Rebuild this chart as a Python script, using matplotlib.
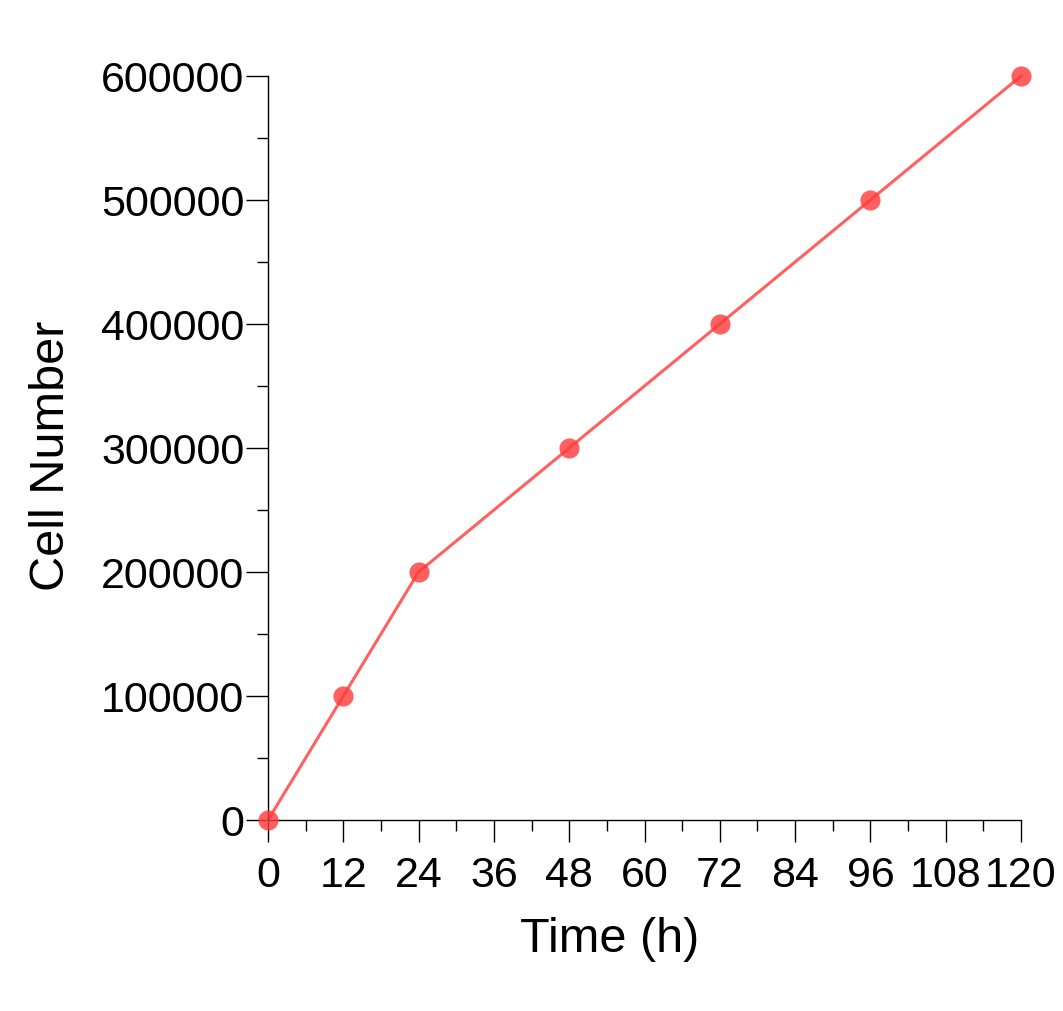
import matplotlib
matplotlib.use("Agg")
import matplotlib.pyplot as plt
from matplotlib.ticker import MultipleLocator

plt.rcParams['font.family'] = ['Liberation Sans', 'DejaVu Sans']

time_h = [0, 12, 24, 48, 72, 96, 120]
cell_number = [0, 100000, 200000, 300000, 400000, 500000, 600000]
x_ticks = [0, 12, 24, 36, 48, 60, 72, 84, 96, 108, 120]
y_ticks = [0, 100000, 200000, 300000, 400000, 500000, 600000]

fig = plt.figure(figsize=(10.63, 10.11), dpi=100)
ax = fig.add_axes([268/1063, 1 - 820/1011, (1021-268)/1063, (820-76)/1011])

ax.plot(time_h, cell_number, color='#ff6060', lw=2.2, zorder=2, clip_on=False)
ax.plot(time_h, cell_number, 'o', color='#ff3a3a', alpha=0.8, ms=14.5,
        mec='none', zorder=3, clip_on=False)

ax.set_xlim(0, 120)
ax.set_ylim(0, 600000)
ax.set_xticks(x_ticks)
ax.set_yticks(y_ticks)
ax.set_yticklabels([str(v) for v in y_ticks])
ax.xaxis.set_minor_locator(MultipleLocator(6))
ax.yaxis.set_minor_locator(MultipleLocator(50000))

for s in ['top', 'right']:
    ax.spines[s].set_visible(False)
for s in ['left', 'bottom']:
    ax.spines[s].set_linewidth(1.0)

ax.tick_params(which='major', direction='out', length=16, width=1.0, labelsize=31)
ax.tick_params(which='minor', direction='out', length=8, width=1.0)
ax.tick_params(axis='y', which='major', pad=1)
ax.tick_params(axis='x', which='major', pad=10)

ax.set_xlabel('Time (h)', fontsize=35, va='center')
ax.set_ylabel('Cell Number', fontsize=35, va='center')
ax.xaxis.set_label_coords((610-268)/753, (820-940)/744)
ax.yaxis.set_label_coords((52-268)/753, 0.49)

fig.savefig('out.png', dpi=100)
